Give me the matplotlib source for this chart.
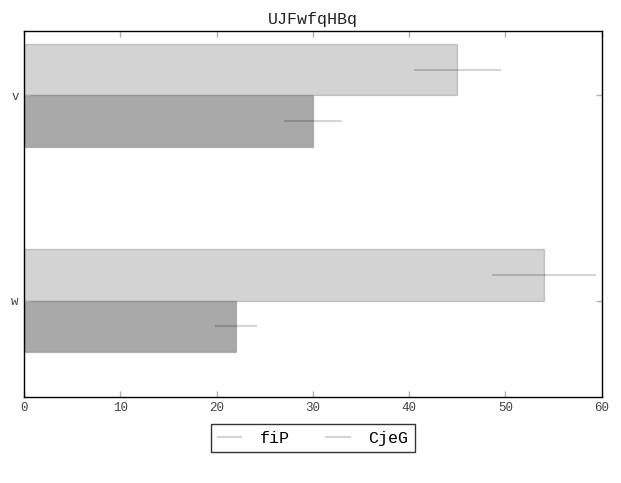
import numpy as np
import matplotlib
matplotlib.use('Agg')
import matplotlib.pyplot as plt
from matplotlib.lines import Line2D

plt.rcParams['font.family'] = ['Liberation Mono', 'DejaVu Sans Mono']

categories = ['w', 'v']
fip_vals = [54, 45]
fip_err = [5.4, 4.5]
cjeg_vals = [22, 30]
cjeg_err = [2.2, 3.0]
series_names = ['fiP', 'CjeG']

px = 1/100
fig = plt.figure(figsize=(621*px, 483*px), dpi=100)
ax = fig.add_axes([0.039, 0.1787, 0.930, 0.7577])

y = np.arange(len(categories))
h = 0.25
soft = (0, 0, 0, 0.17)

ax.barh(y + h/2, fip_vals, height=h, color='lightgray', edgecolor=soft, linewidth=1,
        xerr=fip_err, error_kw=dict(ecolor=soft, elinewidth=1.5, capsize=0))
ax.barh(y - h/2, cjeg_vals, height=h, color='darkgray', edgecolor=soft, linewidth=1,
        xerr=cjeg_err, error_kw=dict(ecolor=soft, elinewidth=1.5, capsize=0))

ax.set_xlim(0, 60)
ax.set_ylim(-0.467, 1.3145)
ax.set_yticks(y)
ax.set_yticklabels(categories)
ax.set_xticks(np.arange(0, 61, 10))

ax.tick_params(direction='in', top=True, right=True, length=4, width=1,
               color='#b0b0b0', labelcolor='#444444', labelsize=9, pad=4)
for s in ax.spines.values():
    s.set_color('black')
    s.set_linewidth(1)

ax.set_title('UJFwfqHBq', fontsize=12, color='#222222', pad=5)

handles = [Line2D([], [], color=soft, lw=1.5), Line2D([], [], color=soft, lw=1.5)]
leg = ax.legend(handles, series_names, loc='upper center', bbox_to_anchor=(0.5, -0.075),
                ncol=2, fontsize=12, frameon=True, fancybox=False, borderaxespad=0,
                borderpad=0.4, handlelength=1.4, handletextpad=1.1, columnspacing=2.2)
leg.get_frame().set_edgecolor('black')
leg.get_frame().set_linewidth(1)

fig.savefig('out.png', dpi=100)
